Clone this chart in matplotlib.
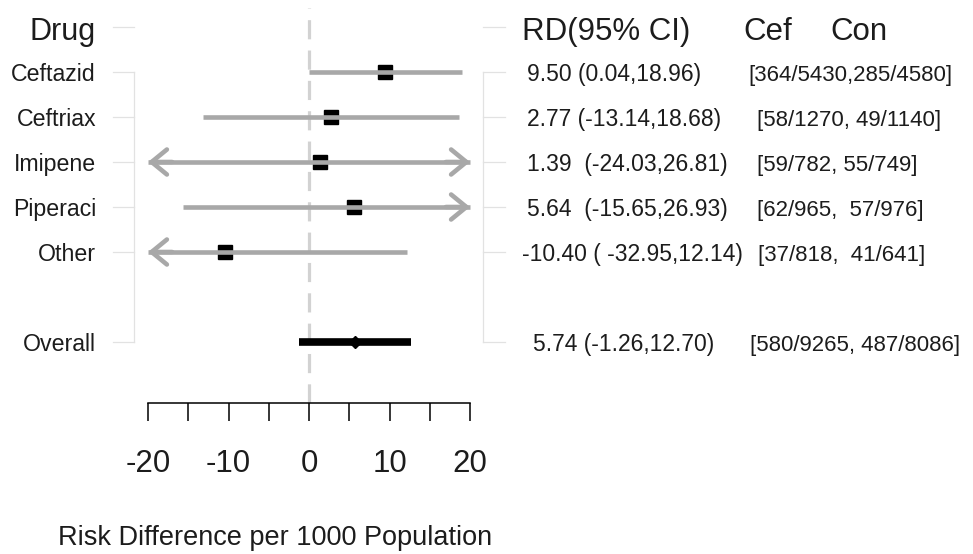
import matplotlib
matplotlib.use('Agg')
import matplotlib.pyplot as plt
from matplotlib.transforms import blended_transform_factory

# ---------------- data ----------------
drugs = ['Ceftazid', 'Ceftriax', 'Imipene', 'Piperaci', 'Other']
rd = [9.50, 2.77, 1.39, 5.64, -10.40]
lo = [0.04, -13.14, -24.03, -15.65, -32.95]
hi = [18.96, 18.68, 26.81, 26.93, 12.14]
overall_label = 'Overall'
overall_rd = 5.74
overall_lo = -1.26
overall_hi = 12.70
rd_text = ['9.50 (0.04,18.96)', '2.77 (-13.14,18.68)', '1.39  (-24.03,26.81)',
           '5.64  (-15.65,26.93)', '-10.40 ( -32.95,12.14)']
overall_rd_text = '5.74 (-1.26,12.70)'
count_text = ['[364/5430,285/4580]', '[58/1270, 49/1140]', '[59/782, 55/749]',
              '[62/965,  57/976]', '[37/818,  41/641]']
overall_count_text = '[580/9265, 487/8086]'
x_ticks = [-20, -15, -10, -5, 0, 5, 10, 15, 20]
x_ticklabels = ['-20', '', '-10', '', '0', '', '10', '', '20']
x_range = (-20, 20)
header_left = 'Drug'
header_rd = 'RD(95% CI)'
header_cef = 'Cef'
header_con = 'Con'
xlabel = 'Risk Difference per 1000 Population'

# ---------------- layout ----------------
W, H = 973, 554
FONT = 'Liberation Sans'
TXT = '#1c1c1c'
CI_GRAY = '#a8a8a8'
FAINT = '#e2e2e2'

fig = plt.figure(figsize=(W / 100, H / 100), dpi=100)
fig.patch.set_facecolor('white')
axis_px = 403
ax = fig.add_axes([0, (H - axis_px) / H, 1, axis_px / H])
ax.set_facecolor('white')

x_left_px, x_right_px = 148, 470
ppu = (x_right_px - x_left_px) / (x_range[1] - x_range[0])
ax.set_xlim(x_range[0] - x_left_px / ppu, x_range[1] + (W - x_right_px) / ppu)
row0_px, row_step = 27, 45
ax.set_ylim((axis_px - row0_px) / row_step, -row0_px / row_step)

rows = list(range(1, len(drugs) + 1))
overall_row = len(drugs) + 2
all_rows = [0] + rows + [overall_row]

for s in ['left', 'right', 'top']:
    ax.spines[s].set_visible(False)
ax.spines['bottom'].set_bounds(*x_range)
ax.spines['bottom'].set_linewidth(1.1)
ax.set_yticks([])
ax.set_xticks(x_ticks)
ax.set_xticklabels(x_ticklabels, fontsize=22.5, family=FONT, color=TXT)
ax.tick_params(axis='x', direction='out', length=13, width=1.1, pad=20)

tr = blended_transform_factory(ax.transAxes, ax.transData)

# faint guide lines (left and right)
for xa, xb, xv in [(113, 134, 134), (483, 505, 483)]:
    ax.plot([xv / W, xv / W], [rows[0], overall_row], color=FAINT, lw=0.9,
            transform=tr, clip_on=False, zorder=0)
    for r in all_rows:
        ax.plot([xa / W, xb / W], [r, r], color=FAINT, lw=0.9,
                transform=tr, clip_on=False, zorder=0)

# reference line at 0
ax.axvline(0, ymin=0, ymax=(axis_px - 8) / axis_px, color='#d2d2d2', lw=2.3,
           dashes=(6, 3.5), zorder=1)

# CIs
for r, m, l, h in zip(rows, rd, lo, hi):
    lc = max(l, x_range[0])
    hc = min(h, x_range[1])
    ax.plot(m, r, marker='s', ms=10, color='black', zorder=3, ls='none')
    ax.plot([lc, hc], [r, r], color=CI_GRAY, lw=3.3, solid_capstyle='butt', zorder=4)
    if l < x_range[0]:
        ax.annotate('', xy=(lc, r), xytext=(lc + 3, r),
                    arrowprops=dict(arrowstyle='->,head_length=1.1,head_width=0.9',
                                    color=CI_GRAY, lw=3.3, mutation_scale=10,
                                    shrinkA=0, shrinkB=0), zorder=4)
    if h > x_range[1]:
        ax.annotate('', xy=(hc, r), xytext=(hc - 3, r),
                    arrowprops=dict(arrowstyle='->,head_length=1.1,head_width=0.9',
                                    color=CI_GRAY, lw=3.3, mutation_scale=10,
                                    shrinkA=0, shrinkB=0), zorder=4)

# overall
ax.plot([overall_lo, overall_hi], [overall_row, overall_row], color='black', lw=5.5,
        solid_capstyle='butt', zorder=4)
ax.plot(overall_rd, overall_row, marker='D', ms=6.5, color='black', zorder=5)

# left labels
base = 9 / row_step
ax.text(96 / W, 0 + 13 / row_step, header_left, transform=tr, ha='right', va='baseline',
        fontsize=22, family=FONT, color=TXT)
for r, name in zip(rows + [overall_row], drugs + [overall_label]):
    ax.text(96 / W, r + base, name, transform=tr, ha='right', va='baseline',
            fontsize=16.7, family=FONT, color=TXT)

# right headers
for xp, t in [(522, header_rd), (743, header_cef), (830, header_con)]:
    ax.text(xp / W, 0 + 13 / row_step, t, transform=tr, ha='left', va='baseline',
            fontsize=22.5, family=FONT, color=TXT)

rd_x = [527, 527, 527, 527, 522, 533]
ct_x = [748, 757, 757, 757, 758, 750]
for r, t1, t2, x1, x2 in zip(rows + [overall_row], rd_text + [overall_rd_text],
                              count_text + [overall_count_text], rd_x, ct_x):
    ax.text(x1 / W, r + base, t1, transform=tr, ha='left', va='baseline',
            fontsize=16.5, family=FONT, color=TXT)
    ax.text(x2 / W, r + base, t2, transform=tr, ha='left', va='baseline',
            fontsize=16.0, family=FONT, color=TXT)

fig.text(58 / W, (H - 545) / H, xlabel, ha='left', va='baseline',
         fontsize=19.5, family=FONT, color=TXT)

fig.savefig('out.png', dpi=100, facecolor='white')
